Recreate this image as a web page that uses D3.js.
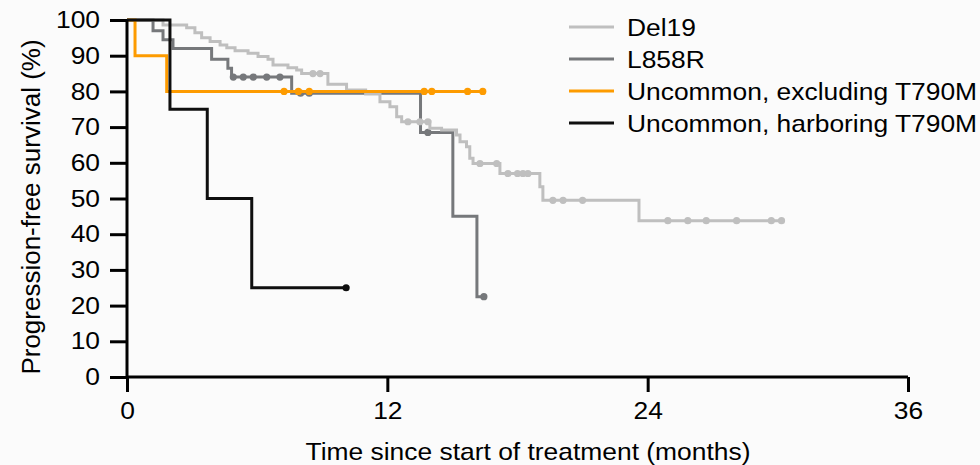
<!DOCTYPE html>
<html><head><meta charset="utf-8">
<script src="https://cdn.jsdelivr.net/npm/d3@7"></script>
<style>
html,body{margin:0;padding:0;background:#fbfbfb;}
svg{display:block;font-family:"Liberation Sans",Arial,sans-serif;}
</style></head>
<body>
<svg id="chart" width="980" height="465"></svg>
<script>
// ---- data ----
const xTicks = [0, 12, 24, 36];
const yTicks = [0, 10, 20, 30, 40, 50, 60, 70, 80, 90, 100];
const seriesNames = ["Del19", "L858R", "Uncommon, excluding T790M", "Uncommon, harboring T790M"];

const del19Times = [0, 1.66, 2.75, 3.13, 3.44, 3.83, 4.29, 4.6, 4.98, 5.58, 6.04, 6.5, 6.73, 7.42, 7.82, 8.05, 9.26, 10.12, 11.0, 11.66, 12.12, 12.43, 12.66, 13.96, 14.5, 15.19, 15.35, 15.65, 15.8, 15.95, 17.19, 19.03, 19.17, 23.6];
const del19Surv  = [100, 98.6, 97.8, 96.4, 95, 94, 93, 92.2, 91.4, 90.7, 89.8, 89, 87.4, 86.6, 86, 85, 82, 80.4, 79.3, 77.1, 75.7, 72.9, 71.5, 69.7, 69.2, 67.8, 65.9, 64.5, 61.3, 59.8, 57, 53.3, 49.5, 43.8];
const del19Censor = [8.57, 8.9, 12.95, 13.5, 13.87, 16.27, 17.04, 17.56, 18.0, 18.25, 18.48, 19.63, 20.1, 21.0, 24.93, 25.85, 26.7, 28.1, 29.7, 30.17];
const del19End = 30.17;

const l858rTimes = [0, 1.2, 1.66, 2.12, 3.9, 4.65, 4.82, 7.59, 13.53, 15.02, 16.13];
const l858rSurv  = [100, 97, 94.5, 92, 89, 86.5, 84, 79.5, 68.5, 45, 22.5];
const l858rCensor = [4.9, 5.36, 5.82, 6.44, 7.05, 8.0, 8.4, 13.87, 16.45];
const l858rEnd = 16.45;

const uncExTimes = [0, 0.37, 1.83];
const uncExSurv  = [100, 90, 80];
const uncExCensor = [7.24, 7.9, 8.4, 13.7, 14.05, 15.7, 16.4];
const uncExEnd = 16.4;

const uncT790Times = [0, 1.98, 3.7, 5.75];
const uncT790Surv  = [100, 75, 50, 25];
const uncT790Censor = [10.1];
const uncT790End = 10.1;

// ---- build ----
const colors = ["#bfbfbf", "#76787b", "#fd9b00", "#0f0f0f"];
const series = [
  {name: seriesNames[1], times: l858rTimes, surv: l858rSurv, censor: l858rCensor, end: l858rEnd, color: colors[1]},
  {name: seriesNames[0], times: del19Times, surv: del19Surv, censor: del19Censor, end: del19End, color: colors[0]},
  {name: seriesNames[2], times: uncExTimes, surv: uncExSurv, censor: uncExCensor, end: uncExEnd, color: colors[2]},
  {name: seriesNames[3], times: uncT790Times, surv: uncT790Surv, censor: uncT790Censor, end: uncT790End, color: colors[3]}
];

const SX = 1.1; // horizontal stretch of glyphs seen in the reference
const FS = 24;

const svg = d3.select("#chart");
const x = d3.scaleLinear().domain([0, 36]).range([127, 908]);
const y = d3.scaleLinear().domain([0, 100]).range([377, 20]);

function survAt(s, t) {
  let v = s.surv[0];
  for (let i = 0; i < s.times.length; i++) if (s.times[i] <= t) v = s.surv[i];
  return v;
}

const line = d3.line().x(d => x(d[0])).y(d => y(d[1])).curve(d3.curveStepAfter);

series.forEach(s => {
  const pts = s.times.map((t, i) => [t, s.surv[i]]);
  pts.push([s.end, s.surv[s.surv.length - 1]]);
  svg.append("path").attr("d", line(pts))
    .attr("fill", "none").attr("stroke", s.color).attr("stroke-width", 3)
    .attr("stroke-linejoin", "miter");
  svg.selectAll(null).data(s.censor).enter().append("circle")
    .attr("cx", d => x(d)).attr("cy", d => y(survAt(s, d)))
    .attr("r", 3.6).attr("fill", s.color);
});

// axes
const xAxis = svg.append("g").attr("transform", `translate(0,${y(0)})`)
  .call(d3.axisBottom(x).tickValues(xTicks).tickSize(15).tickPadding(10).tickSizeOuter(0));
const yAxis = svg.append("g").attr("transform", `translate(${x(0)},0)`)
  .call(d3.axisLeft(y).tickValues(yTicks).tickSize(17).tickPadding(10).tickSizeOuter(0));
[xAxis, yAxis].forEach(g => {
  g.select(".domain").attr("stroke", "#000").attr("stroke-width", 3);
  g.selectAll(".tick line").attr("stroke", "#000").attr("stroke-width", 3);
  g.selectAll(".tick text").attr("fill", "#000").style("font-size", FS + "px")
    .style("font-family", "'Liberation Sans', Arial, sans-serif");
});
xAxis.selectAll(".tick text").attr("transform", `scale(${SX},1)`);
yAxis.selectAll(".tick text").each(function() {
  const t = d3.select(this);
  const xv = +t.attr("x");
  t.attr("x", 0).attr("transform", `translate(${xv},0) scale(${SX},1)`);
});
xAxis.select(".domain").attr("d", `M${x(0)},0H${x(36)}`);
yAxis.select(".domain").attr("d", `M0,${y(100)}V${y(0)}`);

svg.append("text").attr("transform", `translate(528,460) scale(${SX},1)`).attr("text-anchor", "middle")
  .style("font-size", FS + "px").attr("fill", "#000").text("Time since start of treatment (months)");
svg.append("text").attr("transform", "translate(40,207) rotate(-90)").attr("text-anchor", "middle")
  .style("font-size", "26px").attr("fill", "#000").text("Progression-free survival (%)");

// legend
const legendRows = [0, 1, 2, 3];
const lg = svg.append("g");
legendRows.forEach(i => {
  const yy = 27 + i * 32;
  lg.append("line").attr("x1", 569).attr("x2", 614).attr("y1", yy).attr("y2", yy)
    .attr("stroke", colors[i]).attr("stroke-width", 3);
  lg.append("text").attr("transform", `translate(627,${yy}) scale(${SX},1)`).attr("dy", "0.36em")
    .style("font-size", FS + "px").attr("fill", "#000").text(seriesNames[i]);
});
</script>
</body></html>
